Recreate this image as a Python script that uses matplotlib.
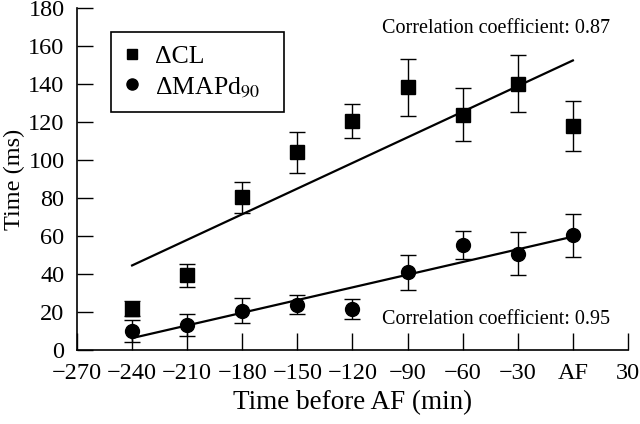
import numpy as np
import matplotlib
matplotlib.use("Agg")
import matplotlib.pyplot as plt
from matplotlib.lines import Line2D

plt.rcParams["font.family"] = ["Liberation Serif", "DejaVu Serif"]
plt.rcParams["mathtext.fontset"] = "stix"

# time before AF (min), 0 = AF
minutes = [-240, -210, -180, -150, -120, -90, -60, -30, 0]
tick_pos = [-270, -240, -210, -180, -150, -120, -90, -60, -30, 0, 30]
tick_labels = ["\u2212270", "\u2212240", "\u2212210", "\u2212180", "\u2212150",
               "\u2212120", "\u221290", "\u221260", "\u221230", "AF", "30"]

# delta CL (ms) with error
cl = [21.7, 39.3, 80.3, 104.0, 120.5, 138.3, 123.8, 140.2, 118.0]
cl_err = [4, 6, 8, 11, 9, 15, 14, 15, 13]

# delta MAPd90 (ms) with error
mapd = [10.0, 13.3, 20.6, 23.8, 21.5, 41.0, 55.5, 50.7, 60.3]
mapd_err = [6, 5.8, 6.6, 5.1, 5.4, 9.2, 7.4, 11.3, 11.2]

fig = plt.figure(figsize=(6.4, 4.24), dpi=100)
ax = fig.add_axes([0.1203, 0.1745, 0.8609, 0.8066])

ax.errorbar(minutes, cl, yerr=cl_err, fmt="s", color="black", ms=9.5,
            capsize=6, elinewidth=1, capthick=1)
ax.errorbar(minutes, mapd, yerr=mapd_err, fmt="o", color="black", ms=10,
            capsize=6, elinewidth=1, capthick=1)

# least squares lines
x = np.array(minutes)
for y in (cl, mapd):
    k, b = np.polyfit(x, y, 1)
    ax.plot([x[0], x[-1]], [k * x[0] + b, k * x[-1] + b], color="black", lw=1.6)

ax.text(-104, 167, "Correlation coefficient: 0.87", fontsize=14.5)
ax.text(-104, 13.7, "Correlation coefficient: 0.95", fontsize=14.5)

ax.set_xlim(-270, 30)
ax.set_ylim(0, 180)
ax.set_xticks(tick_pos)
ax.set_xticklabels(tick_labels)
ax.set_yticks(range(0, 181, 20))
ax.tick_params(axis="x", direction="in", length=12.5, width=1, labelsize=17.5, pad=9)
ax.tick_params(axis="y", direction="in", length=11.5, width=1, labelsize=17.5, pad=9)
for s in ("top", "right"):
    ax.spines[s].set_visible(False)
for s in ("left", "bottom"):
    ax.spines[s].set_linewidth(1.2)

ax.set_xlabel("Time before AF (min)", fontsize=19.5, labelpad=5)
ax.set_ylabel("Time (ms)", fontsize=17.5, labelpad=2)

handles = [Line2D([], [], ls="none", marker="s", ms=7, color="black"),
           Line2D([], [], ls="none", marker="o", ms=8, color="black")]
leg = ax.legend(handles, ["\u0394CL", "\u0394MAPd$_{90}$"], loc="upper left",
                bbox_to_anchor=(0.0617, 0.696, 0.314, 0.234), mode="expand",
                fontsize=18.5, frameon=True, fancybox=False, edgecolor="black",
                framealpha=1, handlelength=0.6, handletextpad=0.6, labelspacing=0.3,
                borderpad=0.5, borderaxespad=0)
leg.get_frame().set_linewidth(1.2)

fig.savefig("out.png", dpi=100)
